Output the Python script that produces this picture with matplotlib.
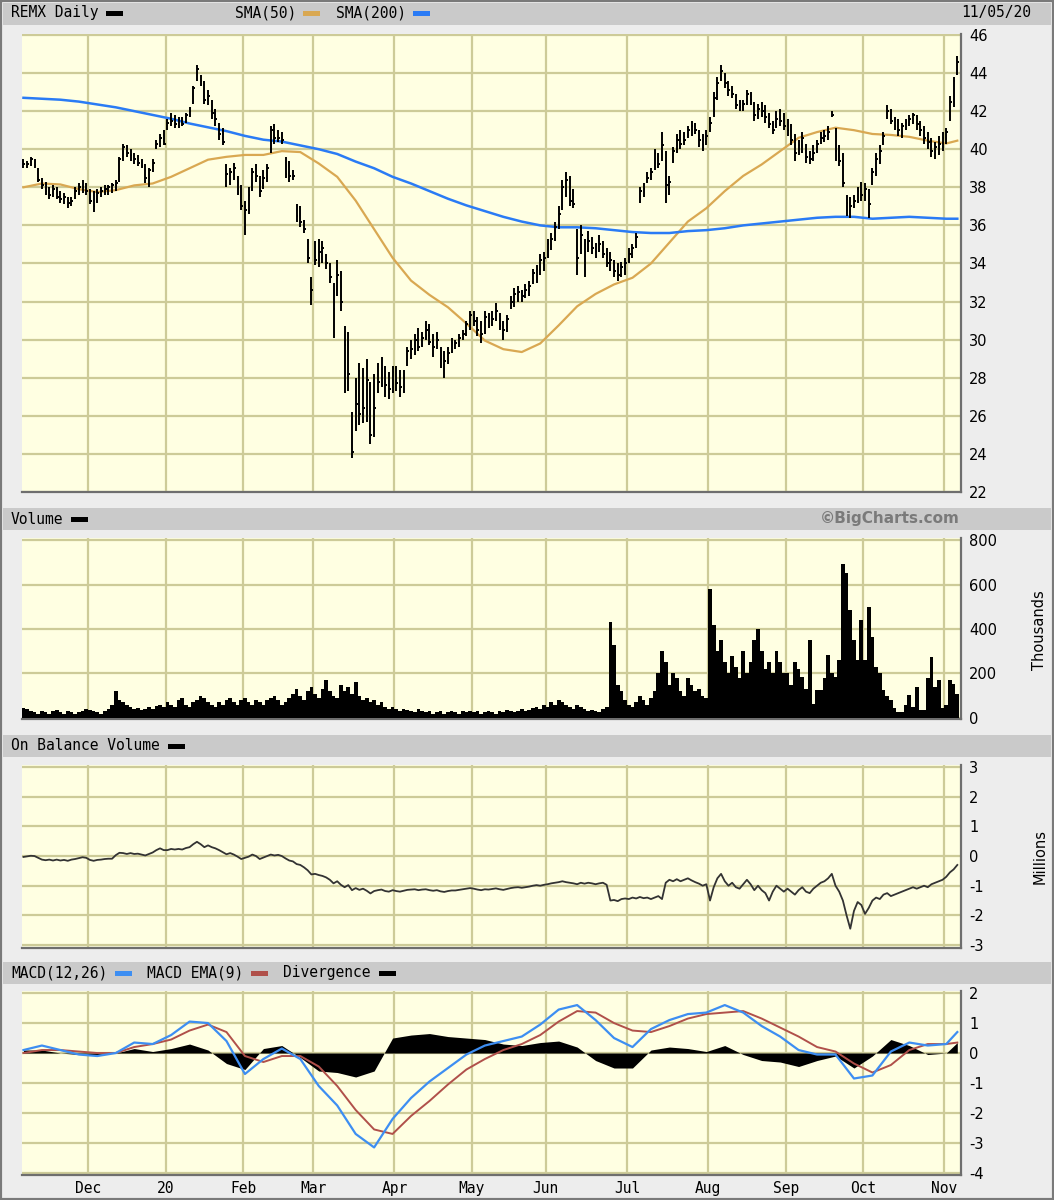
import numpy as np
import pandas as pd
import matplotlib
matplotlib.use("Agg")
import matplotlib.pyplot as plt
from matplotlib.patches import Rectangle

# ---------------- data ----------------
holidays = ['2019-11-28', '2019-12-25', '2020-01-01', '2020-01-20', '2020-02-17',
            '2020-04-10', '2020-05-25', '2020-07-03', '2020-09-07']
dates = pd.bdate_range('2019-11-05', '2020-11-05')
dates = dates[~dates.isin(pd.to_datetime(holidays))]

high = [39.5,39.4,39.6,39.5,39.0,38.5,38.3,38.0,38.1,38.0,37.8,37.7,37.5,37.5,38.0,38.2,38.4,38.2,
        37.9,37.8,37.9,38.0,38.1,38.1,38.2,38.4,39.6,40.3,40.2,40.0,39.8,39.7,39.5,39.2,39.0,39.5,40.5,40.8,41.0,
        41.6,41.9,41.8,41.7,41.7,41.9,42.2,43.3,44.4,43.9,43.6,43.1,42.6,42.1,41.4,41.1,39.2,39.0,39.3,38.6,38.1,
        37.3,38.0,39.0,39.2,38.6,38.9,39.2,41.2,41.3,41.0,40.9,39.6,39.4,38.9,37.1,37.0,36.3,35.3,33.3,
        35.2,35.3,35.2,34.5,34.0,33.0,34.2,33.6,30.7,30.4,26.2,28.0,28.8,28.5,29.0,27.8,28.2,28.8,29.1,28.6,28.3,28.6,
        28.6,28.4,28.4,29.6,30.0,30.3,30.6,30.4,31.0,30.8,30.3,30.4,29.6,29.4,29.6,30.1,30.0,30.3,30.5,31.0,31.5,
        31.5,31.2,31.0,31.5,31.4,31.5,31.9,31.4,31.0,31.3,32.3,32.7,32.8,32.6,32.9,33.1,33.7,33.9,34.5,34.6,
        35.3,35.6,36.2,37.0,38.4,38.8,38.6,37.9,35.8,36.0,35.3,35.7,35.4,35.1,35.5,35.2,34.8,34.6,34.2,34.0,34.1,34.3,
        34.8,35.0,35.6,38.0,38.2,38.8,39.0,40.0,39.8,40.9,39.9,38.6,40.1,40.8,41.0,40.9,41.2,41.5,41.4,41.0,40.8,41.0,
        41.7,43.0,43.8,44.4,44.0,43.6,43.3,42.9,42.6,42.6,43.1,43.0,42.5,42.4,42.5,42.3,41.9,41.5,42.0,42.1,41.9,
        41.6,41.3,40.8,40.5,40.9,40.3,39.9,40.2,40.5,40.9,41.0,41.2,42.0,41.1,40.2,39.8,37.6,37.5,37.6,38.0,38.3,
        38.2,37.9,39.0,39.8,40.2,40.9,42.3,42.1,41.7,41.6,41.4,41.6,41.8,41.9,41.8,41.5,41.2,40.9,40.6,40.4,40.7,40.9,
        41.1,42.8,43.8,44.9]
low = [39.0,39.0,39.1,39.0,38.3,37.9,37.6,37.4,37.5,37.4,37.2,37.1,36.9,37.0,37.4,37.6,37.7,37.6,
       37.1,36.7,37.2,37.5,37.6,37.6,37.7,37.8,38.3,39.4,39.6,39.4,39.2,39.1,39.0,38.2,38.0,38.8,40.0,40.1,40.2,
       41.0,41.2,41.1,41.1,41.2,41.4,41.7,42.4,43.6,43.3,42.4,42.3,41.6,41.2,40.5,40.2,38.0,38.1,38.4,37.6,36.8,
       35.5,36.6,37.8,38.3,37.5,37.9,38.3,39.8,40.3,40.4,40.3,38.5,38.3,38.4,36.2,35.9,35.6,34.0,31.8,
       33.9,33.8,34.0,33.7,33.0,30.1,32.3,31.5,27.2,27.3,23.8,25.2,25.5,25.6,25.7,24.5,24.9,27.2,27.5,27.0,26.9,27.2,
       27.3,27.0,27.2,28.6,29.0,29.2,29.4,29.6,30.0,29.7,29.1,29.5,28.5,28.0,28.7,29.3,29.5,29.6,30.0,30.2,30.5,
       30.7,30.2,29.8,30.3,30.6,30.7,31.0,30.5,30.0,30.4,31.6,31.7,32.0,32.0,32.2,32.3,32.9,33.0,33.4,33.6,
       34.3,34.7,35.2,35.8,36.8,37.5,37.0,36.9,33.4,34.5,33.3,34.6,34.5,34.3,34.6,34.3,33.8,33.6,33.3,33.1,33.3,33.4,
       34.0,34.3,34.8,37.2,37.5,38.2,38.4,38.9,39.0,39.4,37.2,37.6,39.3,39.8,40.0,40.2,40.6,40.7,40.8,40.1,39.9,40.2,
       40.9,41.7,42.6,43.6,43.2,42.8,42.7,42.1,42.0,42.0,42.3,42.3,41.5,41.6,41.7,41.4,41.1,40.8,41.1,41.2,41.0,
       40.7,40.2,39.4,39.7,39.8,39.3,39.2,39.4,39.8,40.3,40.4,40.5,41.7,39.4,39.1,38.0,36.5,36.4,36.9,37.2,37.3,
       37.3,36.4,38.1,38.6,39.2,40.2,41.6,41.3,41.0,40.7,40.6,41.0,41.2,41.3,41.0,40.7,40.3,40.0,39.6,39.5,39.7,39.9,
       40.3,41.5,42.2,43.9]
close = [39.2,39.2,39.5,39.1,38.4,38.1,37.8,37.6,37.9,37.5,37.4,37.5,37.2,37.3,37.8,38.0,38.0,37.8,
         37.3,37.0,37.7,37.8,37.9,38.0,38.1,38.2,39.5,40.1,39.8,39.7,39.5,39.3,39.1,38.5,38.9,39.3,40.3,40.6,40.3,
         41.4,41.5,41.3,41.5,41.3,41.8,42.0,43.2,44.2,43.6,42.6,42.8,41.9,41.6,40.8,40.4,38.7,38.8,39.0,37.9,37.0,
         36.8,37.6,38.8,38.6,37.8,38.5,39.0,41.0,40.6,40.6,40.5,38.7,38.6,38.6,36.5,36.2,35.8,34.3,32.6,
         34.2,34.6,34.8,34.0,33.3,31.6,33.4,32.0,29.7,28.2,24.1,26.6,26.1,26.4,27.9,25.0,26.4,27.8,28.0,27.6,27.4,28.3,
         27.7,27.5,28.0,29.4,29.5,30.0,29.6,30.1,30.5,29.9,29.6,30.0,29.0,28.9,29.3,29.8,29.8,30.1,30.3,30.8,31.3,
         31.0,30.5,30.3,31.2,31.0,31.1,31.5,30.7,30.5,31.1,32.0,32.4,32.5,32.3,32.6,32.8,33.5,33.7,34.2,34.3,
         35.0,35.3,35.9,36.6,38.0,38.4,37.3,37.1,34.3,35.5,34.6,35.2,34.8,34.6,35.0,34.5,34.0,34.2,33.6,33.4,33.8,34.0,
         34.5,34.8,35.4,37.8,37.9,38.5,38.8,39.8,39.2,40.2,38.1,38.3,39.9,40.5,40.3,40.5,41.0,41.2,41.0,40.5,40.2,40.7,
         41.4,42.7,43.5,44.1,43.5,43.1,42.9,42.3,42.2,42.4,42.9,42.6,41.8,42.1,42.0,41.7,41.3,41.0,41.6,41.5,41.2,
         41.0,40.5,39.8,40.2,40.6,39.6,39.5,39.8,40.3,40.6,40.7,40.9,41.8,39.9,39.4,38.2,37.2,37.0,37.3,37.8,37.6,
         37.9,37.1,38.8,39.5,39.9,40.7,42.0,41.5,41.2,41.0,41.2,41.4,41.6,41.8,41.3,41.0,40.6,40.4,39.9,40.1,40.3,40.6,
         40.9,42.5,43.6,44.6]

# volume, thousands of shares
volume = [45,40,30,25,20,30,25,20,30,35,25,20,30,25,20,25,30,40,
          35,30,25,20,30,40,60,120,80,70,60,50,40,45,35,40,50,40,55,60,50,
          70,60,50,80,90,60,50,70,80,100,90,70,60,50,70,60,80,90,70,60,80,
          90,70,60,80,70,60,80,90,100,80,60,70,90,110,130,100,80,120,140,
          110,90,130,170,120,100,90,150,120,140,110,160,100,80,90,70,80,60,70,50,40,50,
          40,30,40,35,30,25,40,30,25,30,20,25,30,20,25,30,25,20,30,25,30,
          25,30,20,25,30,25,20,30,25,35,30,25,30,40,30,35,45,50,40,60,
          50,70,60,80,70,60,50,40,60,50,40,30,35,30,25,40,50,430,330,150,120,80,
          60,50,70,100,80,60,90,120,200,300,250,150,200,180,120,100,180,150,120,130,100,90,
          580,420,300,350,250,200,280,230,180,300,200,250,350,400,300,220,250,200,300,250,200,
          200,150,250,220,185,130,350,65,125,125,180,283,200,185,260,690,650,485,350,260,440,
          260,500,365,230,200,125,100,80,45,27,27,60,105,50,140,35,35,180,275,140,170,45,
          60,170,155,110]

# on balance volume, millions
obv = [-0.03,-0.01,0.01,0.0,-0.06,-0.12,-0.14,-0.12,-0.15,-0.12,-0.15,-0.13,-0.16,-0.12,-0.1,-0.07,-0.04,-0.06,
       -0.13,-0.16,-0.13,-0.12,-0.1,-0.09,-0.09,0.03,0.11,0.1,0.07,0.1,0.07,0.08,0.05,0.02,0.07,0.12,0.2,0.26,0.2,
       0.2,0.24,0.22,0.24,0.22,0.27,0.3,0.4,0.48,0.4,0.3,0.36,0.3,0.26,0.2,0.13,0.06,0.1,0.05,-0.02,-0.1,
       -0.06,-0.02,0.05,0.0,-0.1,-0.05,0.0,0.05,0.02,0.04,0.0,-0.08,-0.15,-0.18,-0.27,-0.3,-0.38,-0.48,-0.62,
       -0.6,-0.64,-0.67,-0.72,-0.8,-0.92,-0.85,-0.97,-1.05,-0.98,-1.15,-1.08,-1.14,-1.1,-1.17,-1.26,-1.18,-1.15,-1.13,-1.18,-1.2,-1.15,
       -1.18,-1.2,-1.17,-1.14,-1.13,-1.12,-1.15,-1.13,-1.12,-1.15,-1.17,-1.15,-1.19,-1.21,-1.18,-1.16,-1.16,-1.14,-1.12,-1.1,-1.08,
       -1.1,-1.13,-1.15,-1.12,-1.13,-1.11,-1.09,-1.12,-1.14,-1.11,-1.08,-1.06,-1.05,-1.07,-1.05,-1.03,-1.0,-0.98,-1.0,-0.97,
       -0.95,-0.92,-0.9,-0.88,-0.85,-0.88,-0.9,-0.92,-0.95,-0.9,-0.93,-0.9,-0.92,-0.95,-0.92,-0.9,-0.97,-1.5,-1.48,-1.52,-1.45,-1.43,
       -1.45,-1.4,-1.43,-1.38,-1.42,-1.4,-1.45,-1.4,-1.35,-1.45,-0.9,-0.8,-0.85,-0.78,-0.85,-0.8,-0.75,-0.82,-0.88,-0.93,-1.0,-0.95,
       -1.5,-1.05,-0.75,-0.6,-0.85,-1.0,-0.9,-1.05,-1.1,-0.95,-0.8,-0.95,-1.15,-1.0,-1.15,-1.25,-1.5,-1.2,-1.0,-1.1,-1.2,
       -1.1,-1.2,-1.3,-1.15,-1.05,-1.2,-1.25,-1.1,-1.0,-0.9,-0.85,-0.75,-0.6,-1.0,-1.2,-1.5,-2.0,-2.45,-1.85,-1.55,-1.65,
       -1.95,-1.75,-1.5,-1.4,-1.45,-1.3,-1.25,-1.35,-1.3,-1.25,-1.2,-1.15,-1.1,-1.05,-1.1,-1.05,-1.0,-1.05,-0.95,-0.9,-0.85,-0.8,
       -0.7,-0.55,-0.45,-0.3]

# indicator lines sampled every 5 sessions (plus the last session)
sma50 = [38.0,38.2,38.15,37.9,37.75,37.85,38.1,38.2,38.55,39.0,39.45,39.6,39.7,39.7,39.9,
         39.85,39.25,38.55,37.3,35.8,34.3,33.1,32.35,31.7,30.85,29.95,29.5,29.35,29.8,30.75,31.75,
         32.4,32.9,33.25,34.0,35.1,36.2,36.9,37.8,38.6,39.2,39.9,40.6,40.9,41.13,41.0,40.8,40.75,
         40.65,40.45,40.3,40.45]
sma200 = [42.7,42.65,42.6,42.5,42.35,42.2,42.0,41.8,41.6,41.35,41.15,40.95,40.7,40.5,40.4,40.2,
          40.0,39.75,39.35,39.0,38.55,38.2,37.8,37.4,37.05,36.75,36.45,36.2,36.0,35.9,35.9,35.85,
          35.75,35.65,35.6,35.6,35.7,35.75,35.85,36.0,36.1,36.2,36.3,36.4,36.45,36.45,36.35,36.4,
          36.45,36.4,36.35,36.35]
macd = [0.1,0.25,0.1,-0.05,-0.1,0.0,0.35,0.3,0.6,1.05,1.0,0.4,-0.7,-0.2,0.15,-0.2,-1.1,-1.75,
        -2.7,-3.15,-2.2,-1.5,-0.95,-0.5,-0.05,0.25,0.4,0.55,0.95,1.45,1.6,1.1,0.5,0.2,0.8,1.1,1.3,
        1.35,1.6,1.35,0.9,0.55,0.1,-0.05,-0.05,-0.85,-0.75,0.05,0.35,0.25,0.3,0.7]
signal = [0.0,0.1,0.1,0.05,0.0,0.0,0.2,0.3,0.45,0.75,0.95,0.7,-0.1,-0.3,-0.1,-0.1,-0.45,-1.1,
          -1.9,-2.55,-2.7,-2.1,-1.6,-1.05,-0.55,-0.2,0.1,0.3,0.6,1.05,1.4,1.35,1.0,0.75,0.7,0.9,1.15,
          1.3,1.35,1.4,1.15,0.85,0.55,0.2,0.05,-0.35,-0.65,-0.4,0.1,0.3,0.3,0.35]
divergence = [0.1,0.1,0.0,-0.05,-0.05,0.0,0.15,0.05,0.15,0.3,0.1,-0.35,-0.55,0.15,0.25,-0.15,-0.6,
              -0.65,-0.8,-0.6,0.5,0.6,0.65,0.55,0.5,0.45,0.3,0.25,0.35,0.4,0.2,-0.25,-0.5,-0.5,0.1,
              0.2,0.15,0.05,0.25,-0.05,-0.25,-0.3,-0.45,-0.25,-0.1,-0.5,-0.1,0.45,0.25,-0.05,0.0,0.35]

month_labels = ['Dec', '20', 'Feb', 'Mar', 'Apr', 'May', 'Jun', 'Jul', 'Aug', 'Sep', 'Oct', 'Nov']

# ---------------- derived positions ----------------
n = len(dates)
x = np.arange(n)
sample_x = np.r_[np.arange(0, n - 3, 5), n - 1]
period = dates.to_period('M')
first_idx = [int(np.argmax(period == p)) for p in period.unique()[1:]]
month_pos = np.array(first_idx) - 0.5

# ---------------- figure ----------------
W, H = 1054, 1200
fig = plt.figure(figsize=(W / 100, H / 100), dpi=100)
fig.patch.set_facecolor('#EDEDED')

PLOT_BG = '#FFFFE2'
GRID = '#CDCB98'
TAN = '#D9A852'
BLUE = '#2A7BF5'
MACD_BLUE = '#3D8EF2'
SIG_RED = '#B0504A'
MONO = 'DejaVu Sans Mono'


def ax_at(l, t, r, b):
    return fig.add_axes([l / W, 1 - b / H, (r - l) / W, (b - t) / H])


def header(top, bottom):
    fig.patches.append(Rectangle((3 / W, 1 - bottom / H), (W - 6) / W, (bottom - top) / H,
                                 transform=fig.transFigure, facecolor='#CACACA',
                                 edgecolor='none', zorder=0))


def swatch(xp, yp, color):
    fig.patches.append(Rectangle((xp / W, 1 - (yp + 3) / H), 17 / W, 5 / H,
                                 transform=fig.transFigure, facecolor=color,
                                 edgecolor='none', zorder=2))


def htext(xp, yp, s, **kw):
    fig.text(xp / W, 1 - yp / H, s, va='center', fontsize=10.5, family=MONO, **kw)


def style(ax, yticks, ylim):
    ax.set_facecolor(PLOT_BG)
    ax.set_xlim(-0.4, n)
    ax.set_ylim(*ylim)
    for s in ('left', 'top'):
        ax.spines[s].set_visible(False)
    for s in ('bottom', 'right'):
        ax.spines[s].set_color('#6E6E6E')
        ax.spines[s].set_linewidth(1.6)
    ax.yaxis.tick_right()
    ax.set_yticks(yticks)
    ax.set_yticklabels([str(v) for v in yticks])
    ax.tick_params(axis='y', length=0, pad=6, labelsize=10.5)
    ax.set_xticks(month_pos)
    ax.tick_params(axis='x', length=0)
    ax.grid(True, color=GRID, linewidth=1.6)
    ax.set_axisbelow(True)


# headers
for t, b in [(3, 25), (508, 530), (735, 757), (962, 984)]:
    header(t, b)
fig.patches.append(Rectangle((0, 0), 1, 1, transform=fig.transFigure, fill=False,
                             edgecolor='#7A7A7A', linewidth=3, zorder=5))

htext(11, 13, 'REMX Daily')
swatch(106, 13, 'black')
htext(235, 13, 'SMA(50)')
swatch(303, 13, TAN)
htext(336, 13, 'SMA(200)')
swatch(413, 13, BLUE)
htext(1031, 13, '11/05/20', ha='right')

htext(11, 519, 'Volume')
swatch(71, 519, 'black')
fig.text(960 / W, 1 - 519 / H, '\u00a9BigCharts.com', ha='right', va='center',
         fontsize=11, fontweight='bold', color='#7A7A7A', family='DejaVu Sans')

htext(11, 746, 'On Balance Volume')
swatch(168, 746, 'black')

htext(11, 973, 'MACD(12,26)')
swatch(115, 973, MACD_BLUE)
htext(147, 973, 'MACD EMA(9)')
swatch(251, 973, SIG_RED)
htext(283, 973, 'Divergence')
swatch(379, 973, 'black')

# ---- price panel ----
ax1 = ax_at(22, 34, 961, 492)
style(ax1, list(range(22, 47, 2)), (22, 46.05))
ax1.set_xticklabels([])
ax1.plot(sample_x, sma50, color=TAN, lw=1.6, zorder=2)
ax1.plot(sample_x, sma200, color=BLUE, lw=1.8, zorder=2)
ax1.vlines(x, low, high, color='black', lw=1.4, zorder=3)
ax1.hlines(close, x, x + 0.5, color='black', lw=1.4, zorder=3)

# ---- volume panel ----
ax2 = ax_at(22, 538, 961, 719)
style(ax2, [0, 200, 400, 600, 800], (-4.5, 809))
ax2.set_xticklabels([])
ax2.bar(x, volume, width=1.0, color='black', linewidth=0, zorder=3)
fig.text(1040 / W, 1 - 630 / H, 'Thousands', rotation=90, ha='center', va='center',
         fontsize=10.5)

# ---- OBV panel ----
ax3 = ax_at(22, 765, 961, 948)
style(ax3, [-3, -2, -1, 0, 1, 2, 3], (-3.1, 3.07))
ax3.set_xticklabels([])
ax3.plot(x, obv, color='#333333', lw=1.3, zorder=3)
fig.text(1040 / W, 1 - 857 / H, 'Millions', rotation=90, ha='center', va='center',
         fontsize=10.5)

# ---- MACD panel ----
ax4 = ax_at(22, 991, 961, 1175)
style(ax4, [-4, -3, -2, -1, 0, 1, 2], (-4.07, 2.07))
ax4.fill_between(sample_x, 0, divergence, color='black', linewidth=0, zorder=2)
ax4.plot(sample_x, signal, color=SIG_RED, lw=1.4, zorder=3)
ax4.plot(sample_x, macd, color=MACD_BLUE, lw=1.6, zorder=4)
ax4.set_xticklabels(month_labels, family=MONO, fontsize=10.5)
ax4.tick_params(axis='x', pad=4)

fig.savefig('out.png', dpi=100, facecolor=fig.get_facecolor())
